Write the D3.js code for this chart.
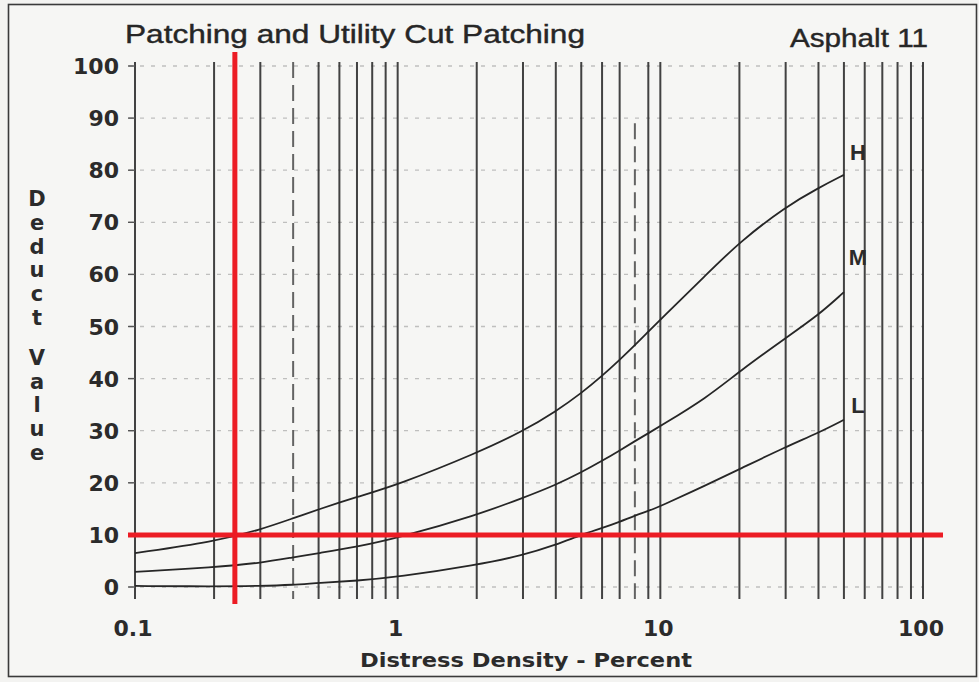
<!DOCTYPE html>
<html>
<head>
<meta charset="utf-8">
<script src="https://cdn.jsdelivr.net/npm/d3@7"></script>
<style>
  html, body { margin: 0; padding: 0; background: #ffffff; }
  svg { display: block; }
</style>
</head>
<body>
<svg id="chart" width="979" height="682"></svg>
<script>
// Distress density (%) at which each curve is sampled
const density = [0.1, 0.2, 0.3, 0.4, 0.5, 0.7, 1, 2, 3, 4, 5, 6, 7, 8, 9, 10, 15, 20, 30, 40, 50];

// Deduct values per severity level
const deductHigh   = [6.5, 8.7, 11.0, 13.2, 14.9, 17.3, 19.6, 25.7, 29.9, 33.7, 37.2, 40.5, 43.6, 46.4, 49.0, 51.3, 60.0, 66.2, 73.0, 76.6, 79.1];
const deductMedium = [2.9, 3.8, 4.6, 5.7, 6.5, 7.7, 9.4, 13.8, 17.1, 19.6, 22.0, 24.2, 26.2, 28.0, 29.5, 30.9, 36.3, 41.4, 47.8, 52.2, 56.6];
const deductLow    = [0.2, 0.1, 0.2, 0.4, 0.8, 1.2, 1.9, 4.2, 6.1, 8.1, 10.0, 11.3, 12.5, 13.7, 14.6, 15.5, 19.6, 22.6, 26.9, 29.6, 32.1];

const severities = ["H", "M", "L"];

// Axis ticks and log grid
const xTickValues = [0.1, 1, 10, 100];
const xTickLabels = ["0.1", "1", "10", "100"];
const yTickValues = [0, 10, 20, 30, 40, 50, 60, 70, 80, 90, 100];
const gridDensity = [0.1, 0.2, 0.3, 0.4, 0.5, 0.6, 0.7, 0.8, 0.9,
                     1, 2, 3, 4, 5, 6, 7, 8, 9,
                     10, 20, 30, 40, 50, 60, 70, 80, 90, 100];
const dashedGrid = [0.4, 8];

// Reading guides: density and deduct value marked in red
const markDensity = 0.24;
const markDeduct = 10;

const titleText = "Patching and Utility Cut Patching";
const sheetText = "Asphalt 11";
const xAxisTitle = "Distress Density - Percent";
const yAxisTitle = "Deduct Value";

// ---------------------------------------------------------------
const svg = d3.select("#chart");
const W = 979, H = 682;

svg.append("rect").attr("width", W).attr("height", H).attr("fill", "#f3f3f1");
svg.append("rect")
  .attr("x", 8.5).attr("y", 4.5).attr("width", 968).attr("height", 672)
  .attr("fill", "#f6f6f4").attr("stroke", "#3a3a3a").attr("stroke-width", 1.6);

const x = d3.scaleLog().domain([0.1, 100]).range([135, 923]);
const y = d3.scaleLinear().domain([0, 100]).range([587, 66]);

// horizontal dotted grid
svg.append("g").selectAll("line").data(yTickValues).join("line")
  .attr("x1", x(0.1) - 6).attr("x2", x(100))
  .attr("y1", d => y(d)).attr("y2", d => y(d))
  .attr("stroke", "#8a8a8a").attr("stroke-width", 1.3)
  .attr("stroke-dasharray", "4 7").attr("opacity", 0.5);

// vertical log grid
svg.append("g").selectAll("line").data(gridDensity).join("line")
  .attr("x1", d => x(d)).attr("x2", d => x(d))
  .attr("y1", d => d === 8 ? y(89) : y(100) - 4)
  .attr("y2", y(0) + 12)
  .attr("stroke", "#333333")
  .attr("stroke-width", 2)
  .attr("stroke-dasharray", d => dashedGrid.includes(d) ? "16 7" : null)
  .attr("opacity", d => dashedGrid.includes(d) ? 0.75 : 0.92);

// left axis ticks
svg.append("g").selectAll("line").data(yTickValues).join("line")
  .attr("x1", x(0.1) - 7).attr("x2", x(0.1))
  .attr("y1", d => y(d)).attr("y2", d => y(d))
  .attr("stroke", "#555").attr("stroke-width", 1.4);

// y tick labels
svg.append("g").selectAll("text").data(yTickValues).join("text")
  .attr("x", 119).attr("y", d => y(d) + 8)
  .attr("text-anchor", "end")
  .attr("font-family", "'DejaVu Sans', sans-serif")
  .attr("font-weight", "bold").attr("font-size", 22)
  .attr("fill", "#2b2b2b")
  .text(d => d);

// x tick labels
svg.append("g").selectAll("text").data(xTickValues).join("text")
  .attr("x", d => x(d) - 2).attr("y", 636)
  .attr("text-anchor", "middle")
  .attr("font-family", "'DejaVu Sans', sans-serif")
  .attr("font-weight", "bold").attr("font-size", 22)
  .attr("fill", "#2b2b2b")
  .text((d, i) => xTickLabels[i]);

// deduct curves
const series = [deductHigh, deductMedium, deductLow].map((vals, i) => ({
  name: severities[i],
  points: density.map((d, j) => ({ x: d, y: vals[j] }))
}));

const line = d3.line()
  .x(d => x(d.x)).y(d => y(d.y))
  .curve(d3.curveBasis);

svg.append("g").selectAll("path").data(series).join("path")
  .attr("d", d => line(d.points))
  .attr("fill", "none")
  .attr("stroke", "#262626")
  .attr("stroke-width", 1.8);

// severity labels next to curve ends
const labelLift = { H: 23, M: 35, L: 15 };
svg.append("g").selectAll("text").data(series).join("text")
  .attr("x", d => x(d.points[d.points.length - 1].x) + 14)
  .attr("y", d => y(d.points[d.points.length - 1].y) - labelLift[d.name] + 8)
  .attr("text-anchor", "middle")
  .attr("font-family", "'Liberation Sans', Arial, sans-serif")
  .attr("font-weight", "bold").attr("font-size", 22)
  .attr("fill", "#2b2b2b")
  .text(d => d.name);

// red reading guides
svg.append("line")
  .attr("x1", x(0.1) - 7).attr("x2", x(100) + 20)
  .attr("y1", y(markDeduct)).attr("y2", y(markDeduct))
  .attr("stroke", "#ec1c24").attr("stroke-width", 5);
svg.append("line")
  .attr("x1", x(markDensity)).attr("x2", x(markDensity))
  .attr("y1", y(100) - 14).attr("y2", y(0) + 17)
  .attr("stroke", "#ec1c24").attr("stroke-width", 5);

// titles
svg.append("text")
  .attr("x", 125).attr("y", 43)
  .attr("font-family", "'Liberation Sans', Arial, sans-serif")
  .attr("font-size", 25).attr("fill", "#262626")
  .attr("stroke", "#262626").attr("stroke-width", 0.4)
  .attr("textLength", 460).attr("lengthAdjust", "spacingAndGlyphs")
  .text(titleText);
svg.append("text")
  .attr("x", 790).attr("y", 47)
  .attr("font-family", "'Liberation Sans', Arial, sans-serif")
  .attr("font-size", 25).attr("fill", "#262626")
  .attr("stroke", "#262626").attr("stroke-width", 0.4)
  .attr("textLength", 138).attr("lengthAdjust", "spacingAndGlyphs")
  .text(sheetText);

svg.append("text")
  .attr("x", 360).attr("y", 667)
  .attr("font-family", "'DejaVu Sans', sans-serif")
  .attr("font-weight", "bold").attr("font-size", 20).attr("fill", "#2b2b2b")
  .attr("textLength", 332).attr("lengthAdjust", "spacingAndGlyphs")
  .text(xAxisTitle);

// stacked vertical y-axis title
const yLetters = [];
let cy = 206;
yAxisTitle.split("").forEach(ch => {
  if (ch === " ") { cy += 16; return; }
  yLetters.push({ ch, cy });
  cy += 23.8;
});
svg.append("g").selectAll("text").data(yLetters).join("text")
  .attr("x", 37).attr("y", d => d.cy)
  .attr("text-anchor", "middle")
  .attr("font-family", "'DejaVu Sans', sans-serif")
  .attr("font-weight", "bold").attr("font-size", 21)
  .attr("fill", "#2b2b2b")
  .text(d => d.ch);
</script>
</body>
</html>
